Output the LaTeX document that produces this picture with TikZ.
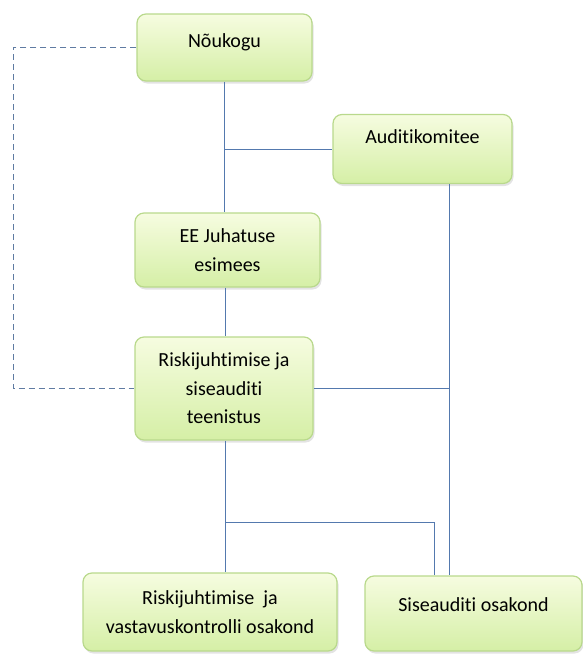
\documentclass[tikz,border=0pt]{standalone}
\usepackage{fontspec}
\setmainfont{Carlito}[Ligatures={NoCommon}]
\usetikzlibrary{shadows}
\definecolor{boxline}{HTML}{B9D98C}
\definecolor{boxtop}{HTML}{F6FCE0}
\definecolor{boxbot}{HTML}{D5EFA6}
\definecolor{conn}{HTML}{5479AE}
\tikzset{
  orgbox/.style={rectangle,rounded corners=9pt,draw=boxline,line width=1.2pt,
    top color=boxtop,bottom color=boxbot,align=center,inner sep=2pt,
    font=\fontsize{20}{28.5}\selectfont,
    drop shadow={opacity=0.22,shadow xshift=1.5pt,shadow yshift=-2.5pt}},
  link/.style={conn,line width=0.95pt}
}
\begin{document}
\begin{tikzpicture}[x=1pt,y=-1pt]
	    \useasboundingbox (0,0) rectangle (582,654);
	    \node[orgbox,minimum width=175pt,minimum height=67pt,text depth=14pt] (nou) at (224.5,47.5) {Nõukogu};
	    \node[orgbox,minimum width=179pt,minimum height=69pt,text depth=25pt] (audit) at (422.5,149) {Auditikomitee};
	    \node[orgbox,minimum width=185pt,minimum height=74pt] (ee) at (227.5,250) {EE Juhatuse\\esimees};
	    \node[orgbox,minimum width=178pt,minimum height=103pt] (riski) at (224,388.5) {Riskijuhtimise ja\\siseauditi\\teenistus};
	    \node[orgbox,minimum width=254pt,minimum height=78pt] (rvk) at (210,612) {Riskijuhtimise\ \ ja\\vastavuskontrolli osakond};
	    \node[orgbox,minimum width=217pt,minimum height=75pt,text depth=18pt] (sise) at (473.5,613.5) {Siseauditi osakond};
	    % columns and junctions
	    \coordinate (c0) at (13,0);
	    \coordinate (c1) at (224,0);
	    \coordinate (c2) at (449,0);
	    \coordinate (c3) at (434,0);
	    \coordinate (j) at (225,522);
	    \draw[link](nou.south -| c1)--(ee.north -| c1);
	    \draw[link](c1 |- audit.west)--(audit.west);
	    \draw[link](ee.south -| j)--(riski.north -| j);
	    \draw[link](audit.south -| c2)--(sise.north -| c2);
	    \draw[link](riski.east)--(riski.east -| c2);
	    \draw[link](riski.south -| j)--(rvk.north -| j);
	    \draw[link](j)-|(sise.north -| c3);
	    \draw[conn!75!gray,line width=1pt,dash pattern=on 6pt off 4pt](nou.west)--(nou.west -| c0)--(riski.west -| c0)--(riski.west);
\end{tikzpicture}
\end{document}
